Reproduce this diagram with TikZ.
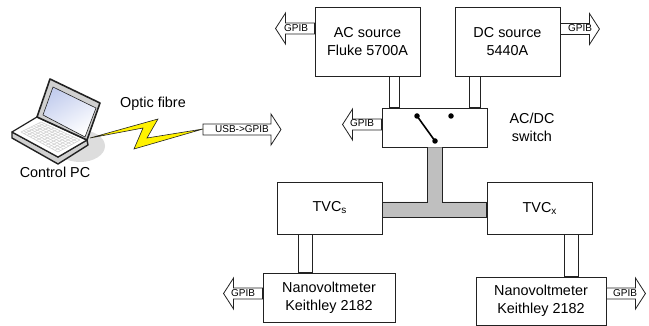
\documentclass[tikz,border=0pt]{standalone}
\usepackage{fontspec}
\setmainfont{Liberation Sans}
\usetikzlibrary{calc}
\definecolor{busgray}{HTML}{BFBFBF}
\definecolor{linecol}{HTML}{222222}
\definecolor{shadowgray}{HTML}{DDDDDD}
\definecolor{screenblue}{HTML}{C3CDEE}
\definecolor{lidgray}{HTML}{D0D0D0}
\definecolor{keygray}{HTML}{D2D2D2}
\tikzset{
  box/.style={draw=linecol,line width=.9pt,fill=white,inner sep=0pt,align=center,font=\fontsize{14.4}{18}\selectfont},
  label text/.style={inner sep=0pt,align=center,font=\fontsize{14.4}{18}\selectfont},
  bus text/.style={inner sep=0pt,font=\fontsize{10}{12}\selectfont},
  bus shape/.style={draw=linecol,line width=.8pt,fill=white,line join=miter},
  link/.style={draw=linecol,line width=.9pt,fill=white},
  dotmark/.style={circle,fill=black,inner sep=0pt,minimum size=5.5pt},
}
% root coordinate, direction (+1 right, -1 left), total length
\newcommand{\busarrow}[3]{%
  \begin{scope}[shift={(#1)},xscale=#2]
    \draw[bus shape] (0,-5.5) -- ({#3-10},-5.5) -- ({#3-10},-15.5) -- (#3,0) -- ({#3-10},15.5) -- ({#3-10},5.5) -- (0,5.5) -- cycle;
  \end{scope}}
\begin{document}
\begin{tikzpicture}[x=1pt,y=-1pt]
\useasboundingbox (0,0) rectangle (649,326);
% boxes
\node[box,minimum width=105pt,minimum height=69pt] (ac) at (367.5,41.5) {AC source\\Fluke 5700A};
\node[box,minimum width=105pt,minimum height=69pt] (dc) at (507.5,41.5) {DC source\\5440A};
\node[box,minimum width=105pt,minimum height=39pt] (sw) at (434.5,127.5) {};
\node[box,minimum width=105pt,minimum height=52pt] (tvcs) at (329.5,208) {TVC{\fontsize{10}{12}\selectfont\raisebox{-2pt}{s}}};
\node[box,minimum width=105pt,minimum height=52pt] (tvcx) at (539.5,208) {TVC{\fontsize{10}{12}\selectfont\raisebox{-2pt}{x}}};
\node[box,minimum width=132pt,minimum height=49pt] (nl) at (329,297.5) {Nanovoltmeter\\Keithley 2182};
\node[box,minimum width=130pt,minimum height=48pt] (nr) at (541,301) {Nanovoltmeter\\Keithley 2182};
% white links
\draw[link] (389,0 |- ac.south) rectangle (399,0 |- sw.north);
\draw[link] (469,0 |- dc.south) rectangle (480,0 |- sw.north);
\draw[link] (298,0 |- tvcs.south) rectangle (312,0 |- nl.north);
\draw[link] (564,0 |- tvcx.south) rectangle (578,0 |- nr.north);
% grey T bus
\draw[link,fill=busgray] (427,0 |- sw.south) -- (427,202) -- (tvcs.east |- 0,202) -- (tvcs.east |- 0,217) -- (tvcx.west |- 0,217) -- (tvcx.west |- 0,202) -- (442,202) -- (442,0 |- sw.south);
% switch
\node[dotmark] (d1) at (417,116) {};
\node[dotmark] (d2) at (451,116) {};
\node[dotmark] (d3) at (435,141) {};
\draw[line width=1.6pt] (d1.center) -- (d3.center);
\node[label text] (swl) at (532,127) {AC/DC\\switch};
% bus arrows
\busarrow{ac.west |- 0,28.5}{-1}{39}
\node[bus text] (g1) at (296,28.5) {GPIB};
\busarrow{dc.east |- 0,29}{1}{39}
\node[bus text] (g2) at (580,28) {GPIB};
\busarrow{sw.west |- 0,124.5}{-1}{39}
\node[bus text] (g3) at (362,123) {GPIB};
\busarrow{nl.west |- 0,293.5}{-1}{39}
\node[bus text] (g4) at (243,293) {GPIB};
\busarrow{nr.east |- 0,293.5}{1}{39}
\node[bus text] (g5) at (625,293) {GPIB};
% laptop
\fill[shadowgray] (80,146) ellipse [x radius=25,y radius=16];
\draw[linecol,line width=1.4pt,fill=lidgray,line join=round] (12,132) -- (12,138) -- (58,164) -- (88,145) -- (87,140) -- (58,157) -- cycle;
\draw[linecol,line width=1.2pt,fill=white,line join=round] (12,132) -- (37,117) -- (87,140) -- (58,157) -- cycle;
\foreach \t in {0,0.125,...,1.01} {
  \draw[keygray,line width=.6pt] ($(21,132)!\t!(41,122)$) -- ($(58,152)!\t!(80,140)$);
}
\foreach \t in {0,0.0833,...,1.01} {
  \draw[keygray,line width=.6pt] ($(21,132)!\t!(58,152)$) -- ($(41,122)!\t!(80,140)$);
}
\draw[linecol,line width=1.6pt,fill=lidgray,line join=round] (50,79) -- (100,103) -- (87,140) -- (37,117) -- cycle;
\shade[top color=screenblue,bottom color=white,shading angle=30,draw=linecol,line width=.6pt] (53,87) -- (96,108) -- (85,137) -- (43,115) -- cycle;
\node[label text] (pc) at (55,172) {Control PC};
\node[label text] (fibre) at (153,104) {Optic fibre};
% USB arrow and lightning
\busarrow{203,129.5}{1}{78}
\node[bus text] (usb) at (242,129) {USB->GPIB};
\coordinate (lstart) at (90,138);
\coordinate (lend) at (203,129);
\draw[draw=linecol,line width=.6pt,fill=yellow,line join=miter] (lstart) -- (158,119) -- (147,138) -- (lend) -- (134,149) -- (143,128) -- cycle;
\end{tikzpicture}
\end{document}
